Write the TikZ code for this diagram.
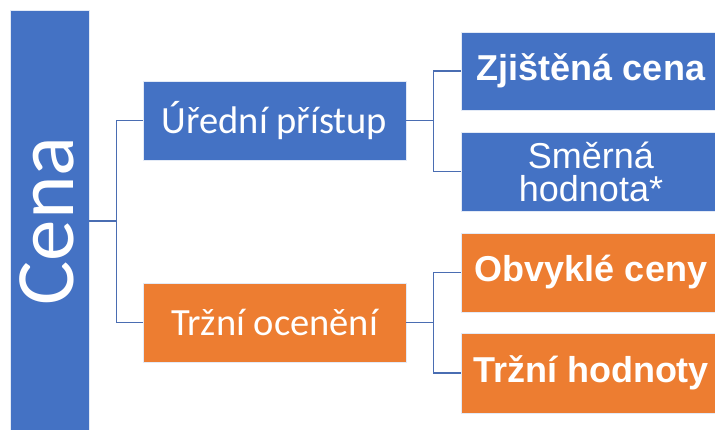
\documentclass[tikz,border=0pt]{standalone}
\usepackage{fontspec}
\setmainfont{Carlito}
\newfontfamily\arialf{Liberation Sans}
\definecolor{cblue}{HTML}{4472C4}
\definecolor{corange}{HTML}{ED7D31}
\definecolor{clink}{HTML}{4A6DB2}
\begin{document}
\begin{tikzpicture}[x=1pt,y=-1pt,
  box/.style={draw=white!85!cblue,line width=0.6pt,inner sep=0pt,text=white,align=center},
  bluebox/.style={box,fill=cblue},
  orangebox/.style={box,fill=corange},
  link/.style={draw=clink,line width=1.3pt}]
\clip (0,0) rectangle (715,429);
\fill[white] (0,0) rectangle (715,429);
% root
\node[bluebox,minimum width=79pt,minimum height=422pt] (cena) at (49.5,221) {};
\node[text=white,rotate=90,font=\fontsize{83}{83}\selectfont] (cenatext) at (47,221) {Cena};
% level 1
\node[bluebox,minimum width=263pt,minimum height=79pt,font=\fontsize{38.5}{38.5}\selectfont] (ured) at (274.5,120.5) {Úřední přístup};
\node[orangebox,minimum width=263pt,minimum height=79pt,font=\fontsize{38.5}{38.5}\selectfont] (trzni) at (274.5,322.5) {Tržní ocenění};
% level 2
\node[bluebox,minimum width=260pt,minimum height=78pt,font=\arialf\bfseries\fontsize{36}{36}\selectfont] (zj) at (591,71) {Zjištěná cena};
\node[bluebox,minimum width=260pt,minimum height=79pt,font=\arialf\fontsize{36}{33}\selectfont] (sm) at (591,171.5) {Směrná\\hodnota*};
\node[orangebox,minimum width=260pt,minimum height=79pt,font=\arialf\bfseries\fontsize{36}{36}\selectfont] (obv) at (591,272.5) {Obvyklé ceny};
\node[orangebox,minimum width=260pt,minimum height=80pt,font=\arialf\bfseries\fontsize{36}{36}\selectfont] (th) at (591,373) {Tržní hodnoty};
% connectors
\draw[link] (cena.east) -- ++(27,0) coordinate (j1) |- (ured.west);
\draw[link] (j1) |- (trzni.west);
\draw[link] (ured.east) -- ++(27,0) coordinate (j2) |- (zj.west);
\draw[link] (j2) |- (sm.west);
\draw[link] (trzni.east) -- ++(27,0) coordinate (j3) |- (obv.west);
\draw[link] (j3) |- (th.west);
\end{tikzpicture}
\end{document}
